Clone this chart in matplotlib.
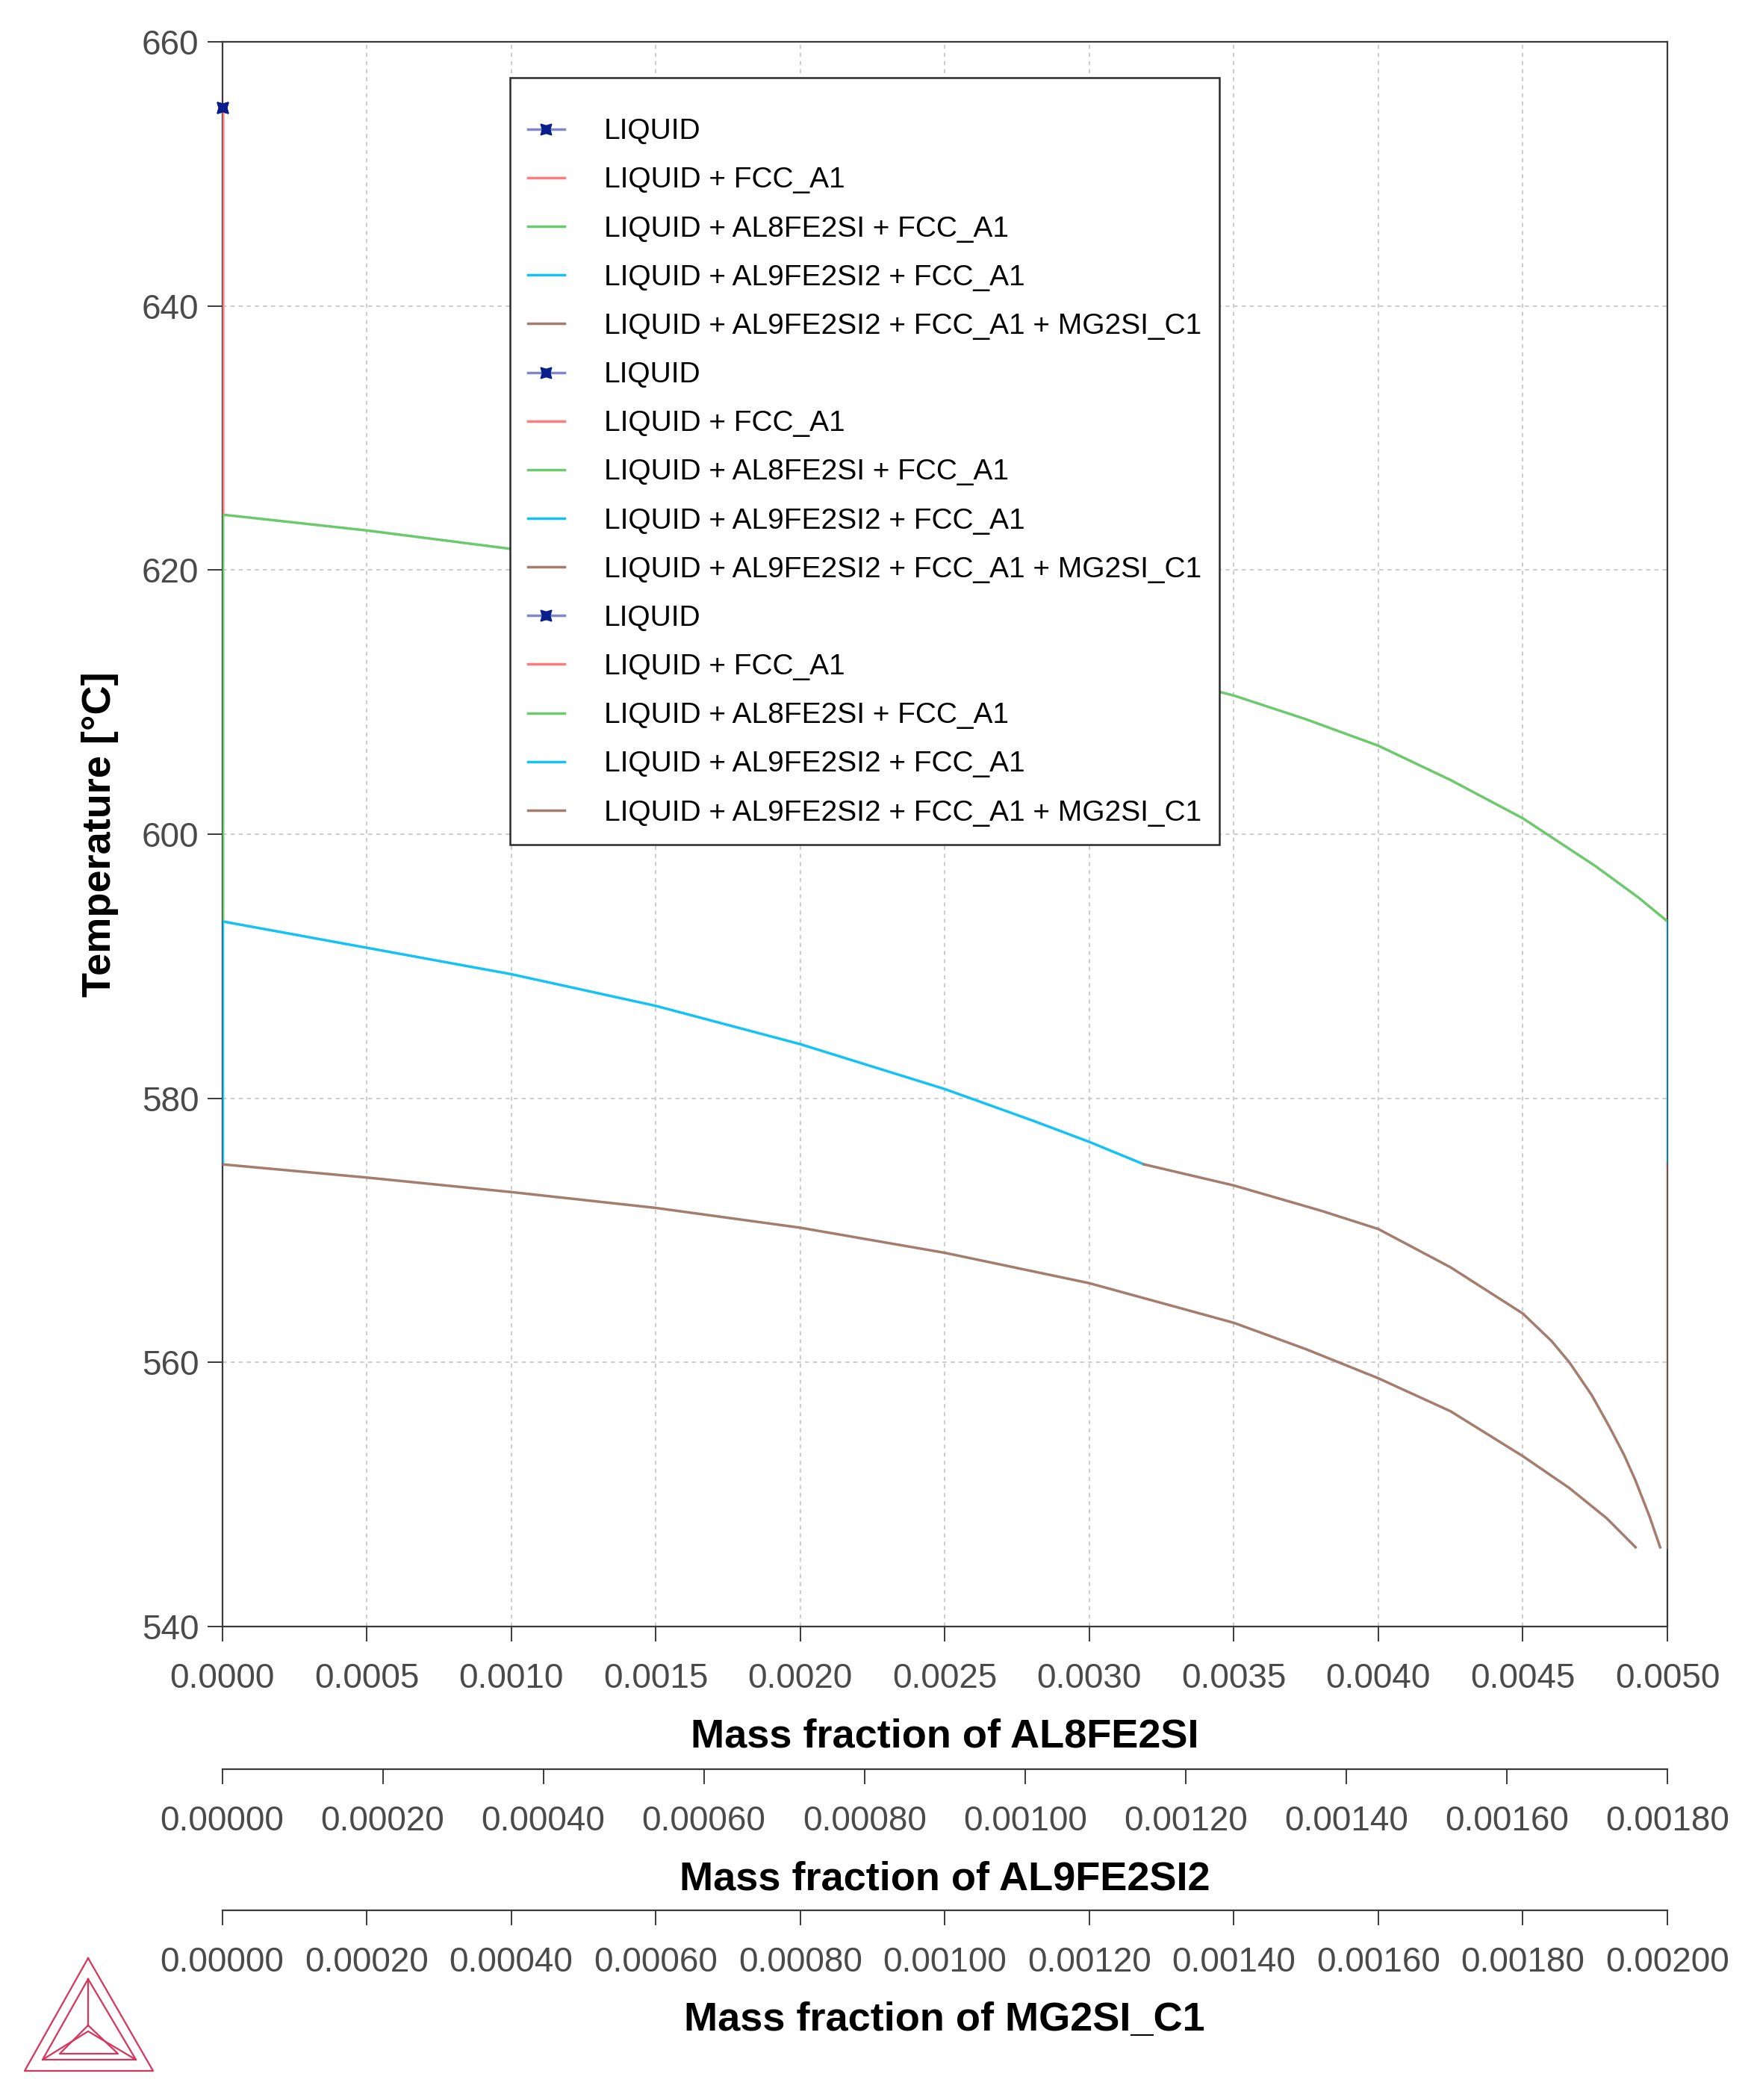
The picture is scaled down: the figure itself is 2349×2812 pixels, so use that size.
import matplotlib.pyplot as plt
from matplotlib.ticker import MultipleLocator, FormatStrFormatter

plt.rcParams['font.family'] = ['Liberation Sans', 'DejaVu Sans']

# legend labels / colours of the Scheil phase regions
phase_labels = ["LIQUID", "LIQUID + FCC_A1", "LIQUID + AL8FE2SI + FCC_A1",
                "LIQUID + AL9FE2SI2 + FCC_A1", "LIQUID + AL9FE2SI2 + FCC_A1 + MG2SI_C1"]
phase_colors = ['#0a1e8c', '#ff7b7b', '#6cc96c', '#14c3f5', '#a47d6e']

# temperatures where a new phase starts (deg C)
t_liquid = 655.0
t_fcc = 624.2
t_al8 = 593.4
t_mg2si = 575.0
t_end = 546.0

# mass fraction of AL8FE2SI during LIQUID + AL8FE2SI + FCC_A1
al8_x = [0.0, 0.0005, 0.0010, 0.0015, 0.0020, 0.0025, 0.0030, 0.0035, 0.00375,
         0.0040, 0.00425, 0.0045, 0.00475, 0.0049, 0.0050]
al8_t = [624.2, 623.0, 621.6, 620.0, 618.1, 615.9, 613.3, 610.5, 608.7,
         606.7, 604.1, 601.2, 597.6, 595.2, 593.4]

# mass fraction of AL9FE2SI2
al9_x_a = [0.0, 0.00018, 0.00036, 0.00054, 0.00072, 0.00090, 0.00101, 0.00108, 0.001148]
al9_t_a = [593.4, 591.4, 589.4, 587.0, 584.1, 580.7, 578.3, 576.7, 575.0]
al9_x_b = [0.001148, 0.00126, 0.001368, 0.00144, 0.00153, 0.00162, 0.001656, 0.001678,
           0.001706, 0.001728, 0.001746, 0.00176, 0.001778, 0.001791]
al9_t_b = [575.0, 573.4, 571.5, 570.1, 567.2, 563.7, 561.6, 560.0,
           557.5, 555.1, 553.0, 551.1, 548.3, 546.0]

# mass fraction of MG2SI_C1
mg_x = [0.0, 0.0002, 0.0004, 0.0006, 0.0008, 0.0010, 0.0012, 0.0013, 0.0014, 0.0015,
        0.0016, 0.0017, 0.0018, 0.001864, 0.001916, 0.001956]
mg_t = [575.0, 574.0, 572.9, 571.7, 570.2, 568.3, 566.0, 564.5, 563.0, 561.0,
        558.8, 556.3, 552.9, 550.5, 548.2, 546.0]

W, H = 2349, 2812
fig = plt.figure(figsize=(W / 100, H / 100), dpi=100)

x0, x1, y0, y1 = 297.5, 2233, 56, 2178
rect = [x0 / W, 1 - y1 / H, (x1 - x0) / W, (y1 - y0) / H]

ax = fig.add_axes(rect)
ax2 = ax.twiny()
ax3 = ax.twiny()

tick_col = '#4a4a4a'
lw = 2.5

# main axis
ax.set_xlim(0, 0.005)
ax.set_ylim(540, 660)
ax.xaxis.set_major_locator(MultipleLocator(0.0005))
ax.xaxis.set_major_formatter(FormatStrFormatter('%.4f'))
ax.yaxis.set_major_locator(MultipleLocator(20))
ax.grid(True, color='#c8c8c8', linestyle=(0, (3, 3)), linewidth=1.3)
for s in ax.spines.values():
    s.set_color('#3a3a3a')
    s.set_linewidth(1.6)
ax.tick_params(direction='out', length=14.4, width=1.4, labelsize=33,
               colors='#3a3a3a', labelcolor=tick_col)
ax.tick_params(axis='x', pad=20)
ax.tick_params(axis='y', pad=8)
ax.set_xlabel("Mass fraction of AL8FE2SI", fontsize=39, fontweight='bold', labelpad=22)
ax.set_ylabel("Temperature [°C]", fontsize=39, fontweight='bold', labelpad=22)

# secondary x axes at the bottom
for a, lim, off, lab in [(ax2, 0.0018, 137.5, "Mass fraction of AL9FE2SI2"),
                         (ax3, 0.0020, 273.5, "Mass fraction of MG2SI_C1")]:
    a.set_xlim(0, lim)
    a.xaxis.set_ticks_position('bottom')
    a.xaxis.set_label_position('bottom')
    a.spines['bottom'].set_position(('outward', off))
    for side in ['top', 'left', 'right']:
        a.spines[side].set_visible(False)
    a.spines['bottom'].set_color('#3a3a3a')
    a.spines['bottom'].set_linewidth(1.6)
    a.patch.set_visible(False)
    a.xaxis.set_major_locator(MultipleLocator(0.0002))
    a.xaxis.set_major_formatter(FormatStrFormatter('%.5f'))
    a.tick_params(direction='out', length=14.4, width=1.4, labelsize=33,
                  colors='#3a3a3a', labelcolor=tick_col, pad=20)
    a.set_xlabel(lab, fontsize=39, fontweight='bold', labelpad=22)


def liquid_point(a):
    return a.plot([0], [t_liquid], linestyle='-', color='#7f88c8', lw=lw,
                  marker=(4, 1, 45), markersize=15, markerfacecolor=phase_colors[0],
                  markeredgecolor=phase_colors[0], clip_on=False, zorder=4)[0]


def seg(a, xs, ts, i):
    return a.plot(xs, ts, color=phase_colors[i], lw=lw, zorder=3)[0]


handles = []
# AL8FE2SI curves
handles.append(liquid_point(ax))
handles.append(seg(ax, [0, 0], [t_liquid, t_fcc], 1))
handles.append(seg(ax, al8_x, al8_t, 2))
handles.append(seg(ax, [al8_x[-1], al8_x[-1]], [t_al8, t_mg2si], 3))
handles.append(seg(ax, [al8_x[-1], al8_x[-1]], [t_mg2si, t_end], 4))
# AL9FE2SI2 curves
handles.append(liquid_point(ax2))
handles.append(seg(ax2, [0, 0], [t_liquid, t_fcc], 1))
handles.append(seg(ax2, [0, 0], [t_fcc, t_al8], 2))
handles.append(seg(ax2, al9_x_a, al9_t_a, 3))
handles.append(seg(ax2, al9_x_b, al9_t_b, 4))
# MG2SI_C1 curves
handles.append(liquid_point(ax3))
handles.append(seg(ax3, [0, 0], [t_liquid, t_fcc], 1))
handles.append(seg(ax3, [0, 0], [t_fcc, t_al8], 2))
handles.append(seg(ax3, [0, 0], [t_al8, t_mg2si], 3))
handles.append(seg(ax3, mg_x, mg_t, 4))

leg = ax3.legend(handles, phase_labels * 3, loc='upper left',
                 bbox_to_anchor=(683 / W, 1 - 104 / H), bbox_transform=fig.transFigure,
                 borderaxespad=0, fontsize=28, frameon=True, fancybox=False,
                 framealpha=1, handlelength=1.25, handletextpad=1.36,
                 labelspacing=0.75, borderpad=0.62, title=' ', title_fontsize=1)
leg.get_frame().set_edgecolor('#2a2a2a')
leg.get_frame().set_linewidth(1.8)
leg.set_zorder(10)

# Thermo-Calc style logo, bottom left
lg = fig.add_axes([0, 0, 1, 1], zorder=-1)
lg.set_xlim(0, W)
lg.set_ylim(H, 0)
lg.axis('off')
logo_col = '#d8355c'
outer = [(118, 2622), (33, 2773), (205, 2773), (118, 2622)]
inner = [(118, 2650), (57, 2758), (182, 2758), (118, 2650)]
small = [(118, 2712), (80, 2750), (158, 2750), (118, 2712)]
for poly in (outer, inner, small):
    lg.plot([p[0] for p in poly], [p[1] for p in poly], color=logo_col, lw=1.6)
lg.plot([118, 118], [2650, 2712], color=logo_col, lw=1.6)
lg.plot([57, 118, 182], [2758, 2720, 2758], color=logo_col, lw=1.6)

fig.savefig('out.png', dpi=100)
